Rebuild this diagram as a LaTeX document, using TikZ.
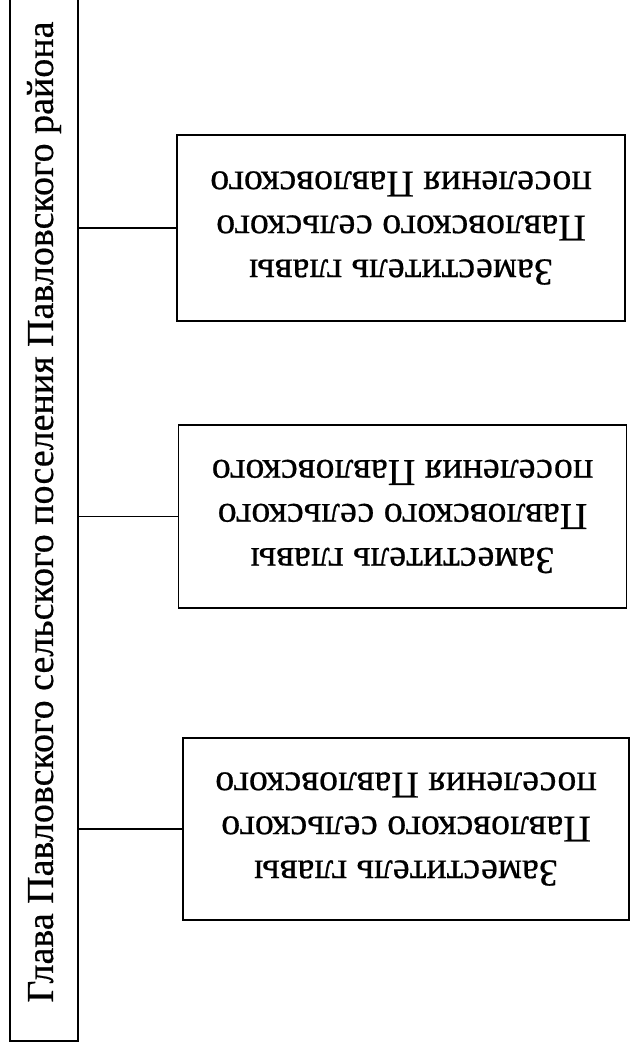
\documentclass[tikz,border=0pt]{standalone}
\usepackage{fontspec}
\setmainfont{Liberation Serif}
\newfontfamily\scanfont{Liberation Serif}[FakeBold=0.5]
\begin{document}
\begin{tikzpicture}[x=1pt,y=-1pt,
  frame/.style={draw=black, line width=1.8pt, inner sep=0pt},
  deputy/.style={frame, minimum width=448pt, minimum height=186pt},
  boxtext/.style={rotate=180, align=center, font=\scanfont\fontsize{38}{44}\selectfont},
  headtext/.style={rotate=90, font=\scanfont\fontsize{38}{44}\selectfont},
  link/.style={draw=black, line width=1.3pt}]
\useasboundingbox[fill=white] (0,0) rectangle (629,1051);
% head box (runs off the top edge)
\node[frame, minimum width=68pt, minimum height=1052pt] (head) at (44,515) {};
\node[headtext] (headlabel) at (44,512) {Глава Павловского сельского поселения Павловского района};
% deputies
\node[deputy] (d1) at (401,228) {};
\node[boxtext] (t1) at (d1) {Заместитель главы\\Павловского сельского\\поселения Павловского};
\node[deputy, minimum height=183pt] (d2) at (402.5,516.5) {};
\node[boxtext] (t2) at (d2) {Заместитель главы\\Павловского сельского\\поселения Павловского};
\node[deputy, minimum width=446pt, minimum height=182pt] (d3) at (406,829) {};
\node[boxtext] (t3) at (d3) {Заместитель главы\\Павловского сельского\\поселения Павловского};
% connectors
\draw[link] (head.east |- d1.west) -- (d1.west);
\draw[link] (head.east |- d2.west) -- (d2.west);
\draw[link] (head.east |- d3.west) -- (d3.west);
\end{tikzpicture}
\end{document}
